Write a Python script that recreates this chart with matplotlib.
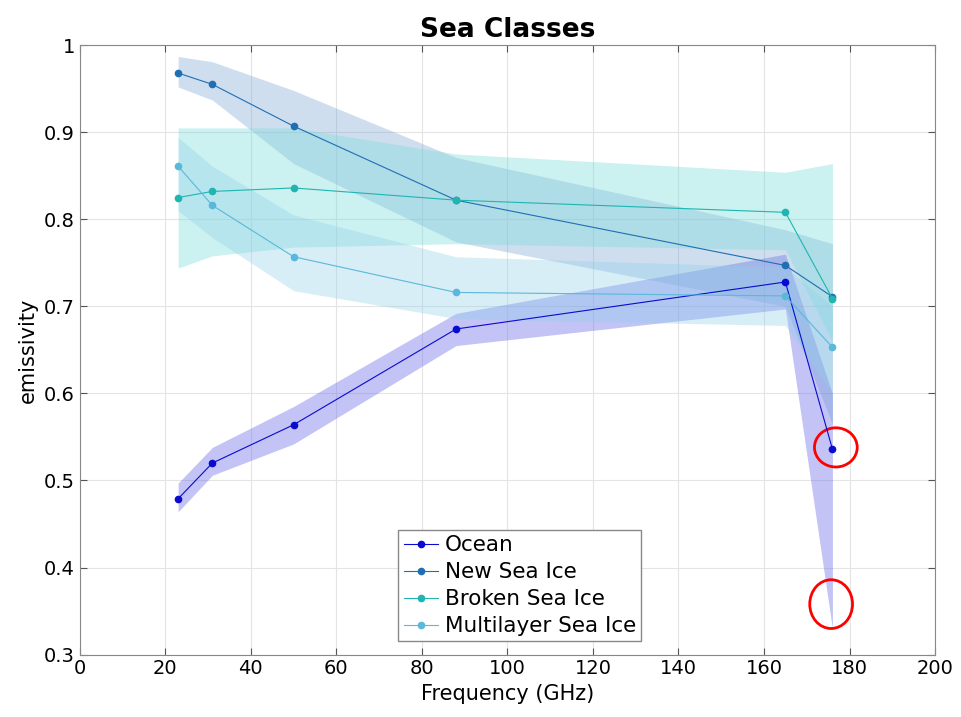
import numpy as np
import matplotlib
matplotlib.use('Agg')
import matplotlib.pyplot as plt
from matplotlib.patches import Ellipse

# frequencies (GHz)
freqs = [23, 31, 50, 88, 165, 176]

# mean emissivity and band limits for each class
ocean_mean = [0.479, 0.520, 0.564, 0.674, 0.728, 0.536]
ocean_lo   = [0.464, 0.506, 0.542, 0.655, 0.697, 0.330]
ocean_hi   = [0.497, 0.538, 0.585, 0.692, 0.760, 0.600]

new_mean = [0.968, 0.955, 0.907, 0.822, 0.747, 0.711]
new_lo   = [0.952, 0.937, 0.864, 0.774, 0.700, 0.565]
new_hi   = [0.987, 0.981, 0.948, 0.871, 0.788, 0.772]

broken_mean = [0.825, 0.832, 0.836, 0.822, 0.808, 0.709]
broken_lo   = [0.744, 0.758, 0.768, 0.772, 0.765, 0.660]
broken_hi   = [0.905, 0.905, 0.905, 0.875, 0.854, 0.864]

multi_mean = [0.861, 0.816, 0.757, 0.716, 0.712, 0.653]
multi_lo   = [0.810, 0.779, 0.718, 0.686, 0.678, 0.600]
multi_hi   = [0.894, 0.861, 0.805, 0.757, 0.745, 0.700]

labels = ['Ocean', 'New Sea Ice', 'Broken Sea Ice', 'Multilayer Sea Ice']
colors = ['#0a0ad0', '#1f6fb2', '#1fb5b0', '#5ab8da']
fills = ['#6a6ae8', '#6a9ad0', '#7fdcdc', '#8fd0ea']
alphas = [0.4, 0.32, 0.4, 0.35]

means = [ocean_mean, new_mean, broken_mean, multi_mean]
los = [ocean_lo, new_lo, broken_lo, multi_lo]
his = [ocean_hi, new_hi, broken_hi, multi_hi]

fig = plt.figure(figsize=(9.61, 7.17), dpi=100)
ax = fig.add_axes([0.083, 0.087, 0.890, 0.850])

for i in range(4):
    ax.fill_between(freqs, los[i], his[i], color=fills[i], alpha=alphas[i], lw=0)
for i in range(4):
    ax.plot(freqs, means[i], '-o', color=colors[i], lw=0.8, ms=4.5, label=labels[i])

# red hand-drawn circles
ax.add_patch(Ellipse((freqs[-1] + 0.8, ocean_mean[-1] + 0.002), 10, 0.045,
                     fill=False, ec='red', lw=2))
ax.add_patch(Ellipse((freqs[-1] - 0.3, ocean_lo[-1] + 0.028), 10, 0.056,
                     fill=False, ec='red', lw=2))

ax.set_xlim(0, 200)
ax.set_ylim(0.3, 1)
ax.set_xticks(np.arange(0, 201, 20))
ax.set_yticks(np.arange(0.3, 1.01, 0.1))
ax.set_yticklabels(['0.3', '0.4', '0.5', '0.6', '0.7', '0.8', '0.9', '1'])
ax.grid(True, color='#e4e4e4', lw=0.8)
ax.set_axisbelow(True)
ax.tick_params(direction='in', top=True, right=True, labelsize=14, length=5,
               color='#555555')
for s in ax.spines.values():
    s.set_color('#888888')
ax.set_xlabel('Frequency (GHz)', fontsize=15)
ax.set_ylabel('emissivity', fontsize=15)
ax.set_title('Sea Classes', fontsize=19, fontweight='bold')

ax.legend(loc='lower left', bbox_to_anchor=(0.360, 0.004), fontsize=15.5,
          fancybox=False, edgecolor='#888888', framealpha=1,
          handlelength=1.6, handletextpad=0.3, borderpad=0.25, labelspacing=0.32)

plt.savefig('out.png', dpi=100)
